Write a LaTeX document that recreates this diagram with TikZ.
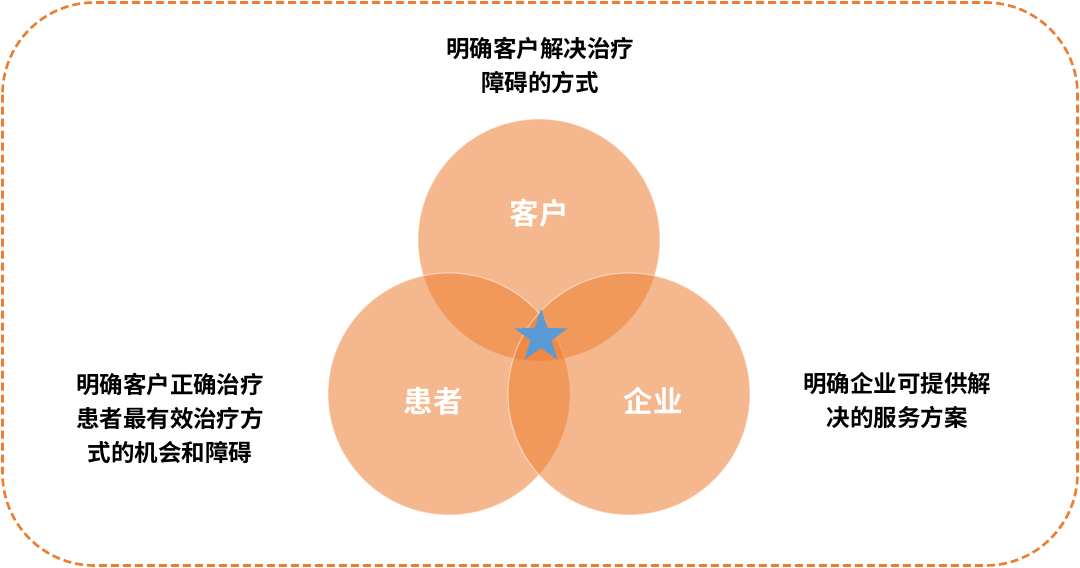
\documentclass[tikz,border=0pt]{standalone}
\usepackage{fontspec}
\newfontfamily\cjk{Noto Sans CJK SC}[BoldFont={* Bold}]
\usetikzlibrary{shapes.geometric}
\definecolor{borange}{HTML}{ED7D31}
\definecolor{sblue}{HTML}{5B9BD5}
\begin{document}
\begin{tikzpicture}[x=1pt,y=-1pt,
  venn/.style={circle,minimum size=242pt,inner sep=0pt,fill=borange,fill opacity=0.55,draw=white,draw opacity=0.45,line width=1.2pt},
  clabel/.style={text=white,font=\cjk\bfseries\fontsize{29.5}{34}\selectfont},
  desc/.style={text=black,align=center,font=\cjk\bfseries\fontsize{23.5}{34}\selectfont},
  starmark/.style={star,star points=5,star point ratio=2.55,minimum size=56pt,inner sep=0pt,fill=sblue,draw=none}]
\useasboundingbox (0,0) rectangle (1080,568);
\draw[borange,line width=2.6pt,dash pattern=on 8pt off 4pt,rounded corners=92pt] (2.5,2.5) rectangle (1077.5,565.5);
\node[venn] (kh) at (539,240) {};
\node[venn] (hz) at (449,394) {};
\node[venn] (qy) at (629,394) {};
\node[clabel] (khl) at (539,213) {客户};
\node[clabel] (hzl) at (433,401) {患者};
\node[clabel] (qyl) at (653,401) {企业};
\node[starmark] (st) at (541,337) {};
\node[desc] (dt) at (540,65) {明确客户解决治疗\\障碍的方式};
\node[desc] (dl) at (170,418) {明确客户正确治疗\\患者最有效治疗方\\式的机会和障碍};
\node[desc] (dr) at (897,401) {明确企业可提供解\\决的服务方案};
\end{tikzpicture}
\end{document}
